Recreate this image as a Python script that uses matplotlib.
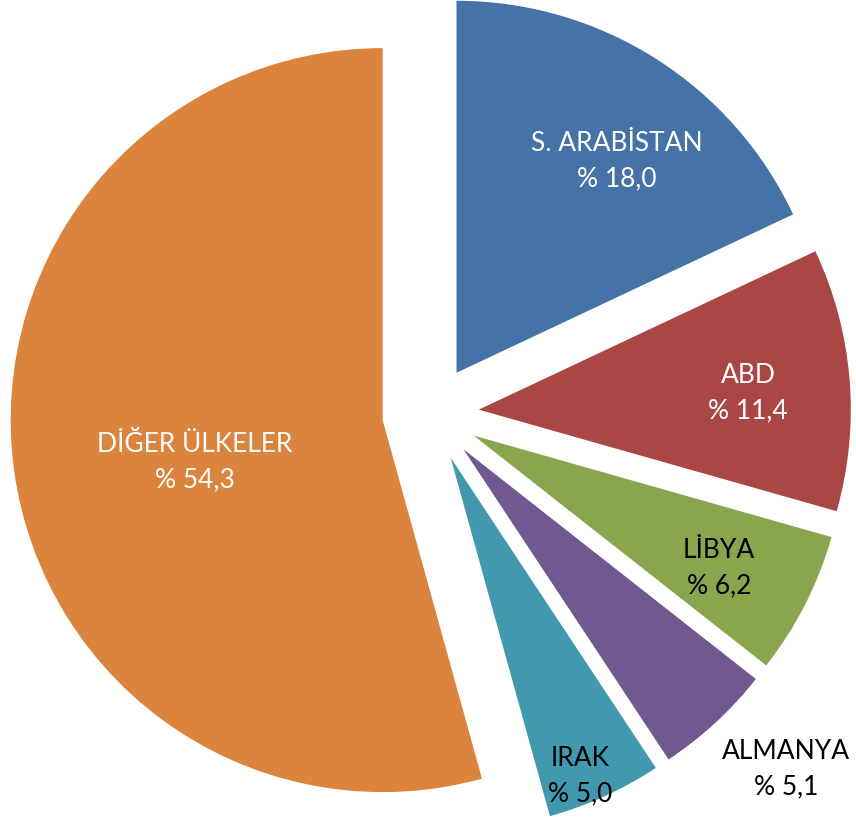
import matplotlib
matplotlib.use('Agg')
import matplotlib.pyplot as plt

# Shares of crude oil imports (%)
countries = ['S. ARABİSTAN', 'ABD', 'LİBYA', 'ALMANYA', 'IRAK', 'DİĞER ÜLKELER']
shares = [18.0, 11.4, 6.2, 5.1, 5.0, 54.3]
colors = ['#4572A7', '#AA4643', '#89A54E', '#71588F', '#4198AF', '#DB843D']
text_colors = ['white', 'white', 'black', 'black', 'black', 'white']

# label anchor points (data units, pie radius = 1)
label_pos = [(0.501, 0.679), (0.853, 0.055), (0.775, -0.415),
             (0.955, -0.955), (0.402, -0.974), (-0.633, -0.130)]

plt.rcParams['font.family'] = ['Lato', 'DejaVu Sans']

fig = plt.figure(figsize=(8.56, 8.22), dpi=100)
ax = fig.add_axes([0, 0, 1, 1])

# Pie starts at top, goes clockwise, every slice pulled out
ax.pie(shares, colors=colors, startangle=90, counterclock=False,
       explode=[0.13] * len(shares), radius=1.0,
       wedgeprops=dict(linewidth=0))

for name, val, (x, y), tc in zip(countries, shares, label_pos, text_colors):
    pct = f'{val:.1f}'.replace('.', ',')
    ax.text(x, y, f'{name}\n% {pct}', ha='center', va='center',
            fontsize=19, color=tc, linespacing=1.5)

ax.set_xlim(-430.6 / 372, (856 - 430.6) / 372)
ax.set_ylim(-408.4 / 372, 413.6 / 372)
ax.set_aspect('auto')
ax.axis('off')

fig.savefig('out.png', dpi=100)
